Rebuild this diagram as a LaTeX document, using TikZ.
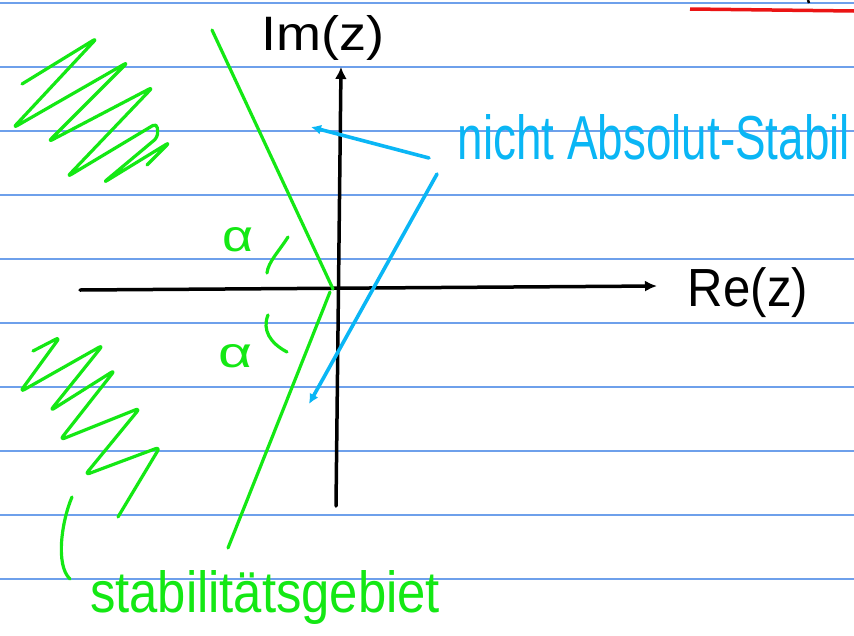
\documentclass[tikz,border=0pt]{standalone}
\usepackage{fontspec}
\setmainfont{Liberation Sans}
\usetikzlibrary{arrows.meta}
\definecolor{rulecol}{RGB}{110,160,235}
\definecolor{hgreen}{RGB}{20,232,20}
\definecolor{hblue}{RGB}{10,182,245}
\definecolor{hred}{RGB}{235,20,20}
\begin{document}
\begin{tikzpicture}[x=1pt,y=-1pt,
  ruleline/.style={draw=rulecol,line width=1.5pt},
  greenpen/.style={draw=hgreen,line width=3.2pt,line cap=round,line join=round},
  bluepen/.style={draw=hblue,line width=3.6pt,line cap=round,line join=round},
  axispen/.style={draw=black,line width=3.5pt,line cap=round},
  scribble/.style={greenpen,rounded corners=5pt},
  htext/.style={inner sep=0pt,outer sep=0pt}]
\useasboundingbox (0,0) rectangle (854,635);
\fill[white] (0,0) rectangle (854,635);
% ruled paper
\foreach \yy in {3,67,131,195,259,323,387,451,515,579}
  \draw[ruleline] (0,\yy) -- (854,\yy);
% red mark top right
\coordinate (r1) at (690,9);
\coordinate (r2) at (854,11);
\draw[draw=hred,line width=3.5pt] (r1) -- (r2);
\coordinate (d1) at (808,0);
\coordinate (d2) at (809,3);
\draw[black,line width=2.5pt] (d1) -- (d2);
% axes
\coordinate (xl) at (80,290);
\coordinate (xr) at (657,286);
\coordinate (yb) at (336,506);
\coordinate (yt) at (341,67);
\draw[axispen,-{Latex[length=12pt,width=11pt]}] (xl) -- (xr);
\draw[axispen,-{Latex[length=12pt,width=12pt]}] (yb) -- (yt);
\node[htext] (im) at (323,37.5) {\resizebox*{123pt}{45pt}{Im(z)}};
\node[htext] (re) at (748,293) {\resizebox*{120pt}{50pt}{Re(z)}};
% green boundary lines
\coordinate (g1) at (212,30);
\coordinate (o1) at (333,289);
\coordinate (o2) at (330,292);
\coordinate (g2) at (228,548);
\draw[greenpen] (g1) -- (o1);
\draw[greenpen] (o2) -- (g2);
% alpha labels and arcs
\node[htext,text=hgreen] (al1) at (238,240) {\resizebox{31pt}{24pt}{α}};
\node[htext,text=hgreen] (al2) at (235,356) {\resizebox{34pt}{23pt}{α}};
\coordinate (a1s) at (288,237);
\coordinate (a1e) at (267,273);
\coordinate (a2s) at (268,315);
\coordinate (a2e) at (287,352);
\draw[greenpen] (a1s) .. controls (280,250) and (268,262) .. (a1e);
\draw[greenpen] (a2s) .. controls (262,330) and (270,343) .. (a2e);
% scribbles (hatching of the unstable region)
\draw[scribble] (22,84) -- (97,38) -- (13,128) -- (128,62) -- (48,142) -- (153,87)
  -- (67,177) -- (157,123) -- (158,137) -- (103,183) -- (170,142) -- (147,165);
\draw[scribble] (33,351) -- (60,337) -- (20,392) -- (103,345) -- (50,411) -- (115,370)
  -- (60,440) -- (140,408) -- (85,475) -- (160,447) -- (118,517);
% brace to label
\coordinate (br1) at (72,497);
\coordinate (br2) at (70,579);
\draw[greenpen] (br1) .. controls (62,520) and (55,565) .. (br2);
\node[htext,text=hgreen,anchor=base west] (stab) at (90,612)
  {\resizebox{350pt}{42pt}{stabilitätsgebiet}};
% blue annotations
\node[htext,text=hblue] (nicht) at (654,137) {\resizebox{392pt}{45pt}{nicht Absolut-Stabil}};
\coordinate (b1s) at (429,158);
\coordinate (b1e) at (311,127);
\coordinate (b2s) at (437,174);
\coordinate (b2e) at (309,404);
\draw[bluepen,-{Latex[length=10pt,width=10pt]}] (b1s) -- (b1e);
\draw[bluepen,-{Latex[length=10pt,width=10pt]}] (b2s) -- (b2e);
\end{tikzpicture}
\end{document}
